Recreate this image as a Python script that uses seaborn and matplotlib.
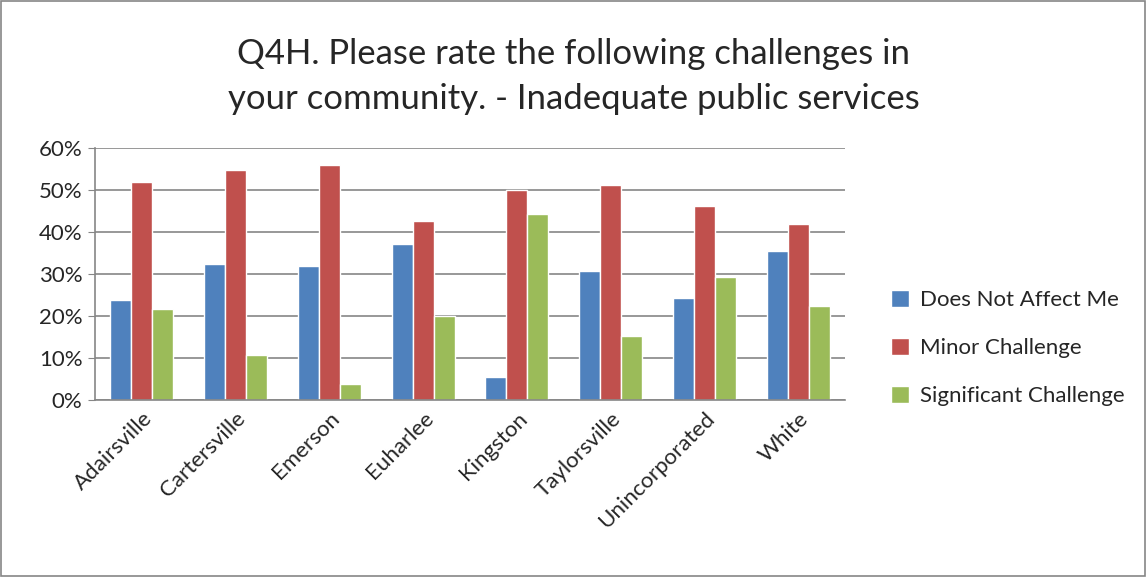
import pandas as pd
import matplotlib.pyplot as plt
import seaborn as sns
from matplotlib.ticker import PercentFormatter

# values (percent)
places = ['Adairsville', 'Cartersville', 'Emerson', 'Euharlee', 'Kingston',
          'Taylorsville', 'Unincorporated', 'White']
not_affect = [23.8, 32.5, 31.9, 37.1, 5.4, 30.6, 24.3, 35.4]
minor = [52.0, 54.7, 56.0, 42.6, 50.0, 51.2, 46.1, 41.8]
significant = [21.6, 10.8, 3.7, 20.1, 44.4, 15.2, 29.3, 22.4]
series = ['Does Not Affect Me', 'Minor Challenge', 'Significant Challenge']
colors = ['#4F81BD', '#C0504D', '#9BBB59']

df = pd.DataFrame({'place': places * 3,
                   'answer': [s for s in series for _ in places],
                   'pct': not_affect + minor + significant})

sns.set_style('white')
plt.rcParams['font.family'] = ['Lato', 'DejaVu Sans']

fig = plt.figure(figsize=(11.47, 5.77), dpi=100)
ax = fig.add_axes([95 / 1147, 1 - 400 / 577, 750 / 1147, 252 / 577])

sns.barplot(data=df, x='place', y='pct', hue='answer', palette=colors,
            width=0.67, saturation=1, ax=ax)

ax.set_ylim(0, 60)
ax.set_yticks(range(0, 61, 10))
ax.yaxis.set_major_formatter(PercentFormatter(decimals=0))
ax.grid(axis='y', color='#868686', linewidth=1.2)
ax.set_axisbelow(True)
for side in ['top', 'right']:
    ax.spines[side].set_visible(False)
for side in ['left', 'bottom']:
    ax.spines[side].set_color('#868686')
    ax.spines[side].set_linewidth(1.2)
ax.set_xlim(-0.5, len(places) - 0.5)
ax.tick_params(axis='y', labelsize=16, length=5, color='#868686', left=True, pad=4)
ax.tick_params(axis='x', labelsize=16, length=0, pad=6)
plt.setp(ax.get_xticklabels(), rotation=45, ha='right', rotation_mode='anchor')
ax.set_xlabel('')
ax.set_ylabel('')

leg = ax.legend(loc='center left', bbox_to_anchor=(1.035, 0.206),
                frameon=False, fontsize=16, handlelength=0.8, handleheight=0.8,
                labelspacing=1.25, handletextpad=0.5)

fig.suptitle('Q4H. Please rate the following challenges in\nyour community. - Inadequate public services',
             y=0.935, fontsize=25, linespacing=1.5)

fig.patches.append(plt.Rectangle((0.001, 0.001), 0.997, 0.997, transform=fig.transFigure,
                                 fill=False, edgecolor='#868686', linewidth=1.2))

fig.savefig('out.png', dpi=100)
